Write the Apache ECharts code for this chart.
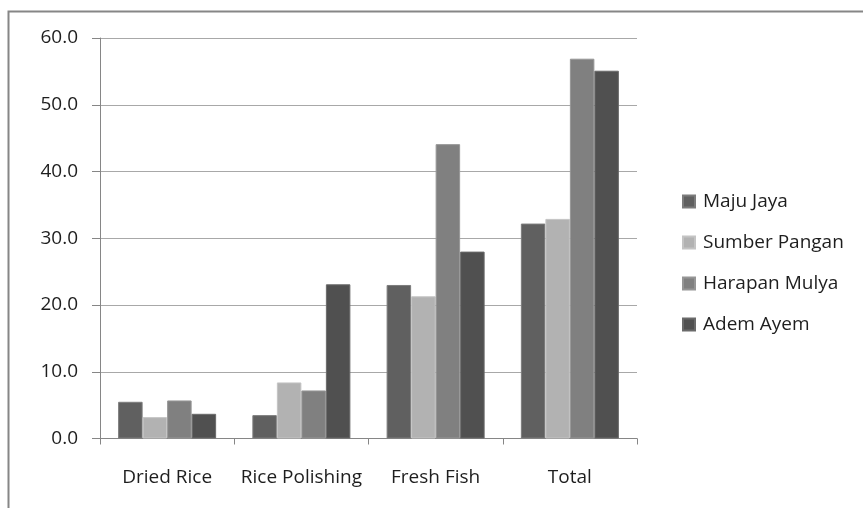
<!DOCTYPE html>
<html>
<head>
<meta charset="utf-8">
<script src="https://cdn.jsdelivr.net/npm/echarts@6/dist/echarts.min.js"></script>
<style>
  html, body { margin: 0; padding: 0; background: #fff; }
  #chart { width: 863px; height: 508px; }
</style>
</head>
<body>
<div id="chart"></div>
<script>
// Categories and series values
const categories = ['Dried Rice', 'Rice Polishing', 'Fresh Fish', 'Total'];
const majuJaya      = [5.5, 3.5, 23.0, 32.2];
const sumberPangan  = [3.2, 8.4, 21.3, 32.9];
const harapanMulya  = [5.7, 7.2, 44.1, 56.9];
const ademAyem      = [3.7, 23.1, 28.0, 55.1];
const seriesNames = ['Maju Jaya', 'Sumber Pangan', 'Harapan Mulya', 'Adem Ayem'];
const seriesData = [majuJaya, sumberPangan, harapanMulya, ademAyem];
const seriesColors = ['#606060', '#b2b2b2', '#808080', '#505050'];
const edgeColors = ['#7c7c7c', '#c4c4c4', '#969696', '#6a6a6a'];

const font = '"Open Sans", "Liberation Sans", sans-serif';
const chart = echarts.init(document.getElementById('chart'));

chart.setOption({
  animation: false,
  backgroundColor: '#ffffff',
  graphic: [{
    type: 'rect',
    shape: { x: 8.5, y: 11.5, width: 900, height: 600 },
    style: { fill: 'none', stroke: '#868686', lineWidth: 2 }
  }],
  grid: { left: 100, right: 226, top: 38, bottom: 69.5 },
  legend: {
    orient: 'vertical',
    left: 677,
    top: 187,
    itemWidth: 12,
    itemHeight: 12,
    itemGap: 22,
    icon: 'rect',
    textStyle: { fontFamily: font, fontSize: 19, color: '#1e1e1e', padding: [0, 0, 0, 3] },
    data: seriesNames
  },
  xAxis: {
    type: 'category',
    data: categories,
    axisLine: { lineStyle: { color: '#868686', width: 1 } },
    axisTick: { show: true, alignWithLabel: false, length: 6, lineStyle: { color: '#868686' } },
    axisLabel: { interval: 0, fontFamily: font, fontSize: 19, color: '#1e1e1e', margin: 30 }
  },
  yAxis: {
    type: 'value',
    min: 0,
    max: 60,
    interval: 10,
    axisLine: { show: true, lineStyle: { color: '#868686', width: 1 } },
    axisTick: { show: true, inside: false, length: 8, lineStyle: { color: '#868686' } },
    splitLine: { lineStyle: { color: '#a8a8a8', width: 1.2 } },
    axisLabel: {
      fontFamily: font, fontSize: 19, color: '#1e1e1e', margin: 22,
      formatter: v => v.toFixed(1)
    }
  },
  series: seriesNames.map((name, i) => ({
    name: name,
    type: 'bar',
    data: seriesData[i],
    barGap: '0%',
    barCategoryGap: '27%',
    itemStyle: { color: seriesColors[i], borderColor: edgeColors[i], borderWidth: 1 }
  }))
});
</script>
</body>
</html>
